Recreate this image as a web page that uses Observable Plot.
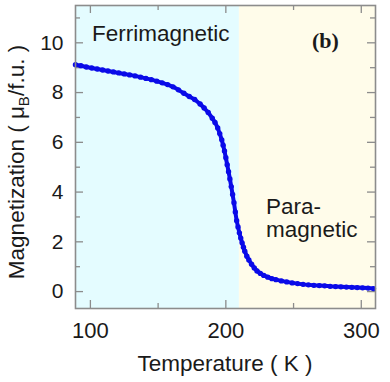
<!DOCTYPE html>
<html><head><meta charset="utf-8">
<script src="https://cdn.jsdelivr.net/npm/d3@7"></script>
<script src="https://cdn.jsdelivr.net/npm/@observablehq/plot@0.6"></script>
<style>
body{margin:0;background:#fff}
#chart svg{font-family:"Liberation Sans",Arial,sans-serif;background:#fff}
</style>
</head><body><div id="chart"></div>
<script>
// Temperature (K) and magnetization (μB/f.u.)
const temperature = [89,93,97,101,105,109,113,117,121,125,129,133,137,141,145,149,153,157,161,165,169,173,177,181,
  184,187,190,192,194,195.5,197,198,199,200,201,202,203,204,205,206,207,208,209,210,211,212,213,214,
  215.5,217,219,221,223,225.5,228,231,234,237,
  241,245,249,253,257,261,265,269,273,277,281,285,289,293,297,301,305,309];
const magnetization = [9.12,9.08,9.03,8.99,8.95,8.91,8.87,8.83,8.79,8.75,8.71,8.67,8.62,8.57,8.52,8.46,8.39,8.32,8.23,8.11,7.97,7.84,7.72,7.54,
  7.38,7.20,6.97,6.80,6.58,6.35,6.10,5.88,5.65,5.38,5.10,4.82,4.53,4.22,3.90,3.57,3.20,2.85,2.60,2.36,2.15,1.96,1.78,1.62,
  1.42,1.27,1.10,0.95,0.83,0.73,0.65,0.58,0.52,0.48,
  0.43,0.39,0.35,0.32,0.29,0.27,0.25,0.24,0.23,0.21,0.20,0.19,0.18,0.17,0.16,0.15,0.14,0.12];

// phase regions (temperature bounds)
const phaseStart = [89, 210];
const phaseEnd = [210, 310.5];

const xTicksMajor = [100, 200, 300];
const xTicksMinor = [150, 250];
const yTicksMajor = [0, 2, 4, 6, 8, 10];
const yTicksMinor = [1, 3, 5, 7, 9, 11];

const xDomain = [89, 310.5];
const yDomain = [-0.68, 11.5];

const W = 390, H = 382;
const mL = 75, mR = 15, mT = 5, mB = 74;
const innerW = W - mL - mR, innerH = H - mT - mB;
const blue = "#0a0ae8";
const gray = "#8c8c8c";
const ink = "#1a1a1a";
const majorLen = 8, minorLen = 5;

const points = temperature.map((t, i) => ({T: t, M: magnetization[i]}));
const ferri = [{x1: phaseStart[0], x2: phaseEnd[0]}];
const para = [{x1: phaseStart[1], x2: phaseEnd[1]}];

const plot = Plot.plot({
  width: W, height: H,
  marginLeft: mL, marginRight: mR, marginTop: mT, marginBottom: mB,
  x: {domain: xDomain},
  y: {domain: yDomain},
  marks: [
    Plot.rect(ferri, {x1: "x1", x2: "x2", fill: "#e4fcff"}),
    Plot.rect(para, {x1: "x1", x2: "x2", fill: "#fffcea"}),
    // ticks bottom / top
    Plot.tickX(xTicksMajor, {x: d => d, stroke: gray, strokeWidth: 1.3, insetTop: innerH - majorLen}),
    Plot.tickX(xTicksMajor, {x: d => d, stroke: gray, strokeWidth: 1.3, insetBottom: innerH - majorLen}),
    Plot.tickX(xTicksMinor, {x: d => d, stroke: gray, strokeWidth: 1.3, insetTop: innerH - minorLen}),
    Plot.tickX(xTicksMinor, {x: d => d, stroke: gray, strokeWidth: 1.3, insetBottom: innerH - minorLen}),
    // ticks left / right
    Plot.tickY(yTicksMajor, {y: d => d, stroke: gray, strokeWidth: 1.3, insetRight: innerW - majorLen}),
    Plot.tickY(yTicksMajor, {y: d => d, stroke: gray, strokeWidth: 1.3, insetLeft: innerW - majorLen}),
    Plot.tickY(yTicksMinor, {y: d => d, stroke: gray, strokeWidth: 1.3, insetRight: innerW - minorLen}),
    Plot.tickY(yTicksMinor, {y: d => d, stroke: gray, strokeWidth: 1.3, insetLeft: innerW - minorLen}),
    Plot.line(points, {x: "T", y: "M", stroke: blue, strokeWidth: 4}),
    Plot.dot(points, {x: "T", y: "M", r: 2.7, fill: blue}),
    Plot.frame({stroke: gray, strokeWidth: 1.6}),
    Plot.axisX(xTicksMajor, {tickSize: 0, tickPadding: 14, fontSize: 22, fill: ink, label: null}),
    Plot.axisY(yTicksMajor, {tickSize: 0, tickPadding: 12, fontSize: 21, fill: ink, label: null})
  ]
});

document.getElementById("chart").appendChild(plot);

const svg = d3.select(plot);
const sx = plot.scale("x"), sy = plot.scale("y");

// annotations
svg.append("text").attr("x", sx.apply(101.5)).attr("y", sy.apply(10.04))
  .attr("text-anchor", "start").attr("font-size", 22.5).attr("fill", ink).text("Ferrimagnetic");
svg.append("text").attr("x", sx.apply(273.9)).attr("y", sy.apply(9.78))
  .attr("text-anchor", "middle").attr("font-size", 22).attr("font-weight", "bold")
  .attr("font-family", "'Liberation Serif','Times New Roman',serif").attr("fill", ink).text("(b)");
svg.append("text").attr("x", sx.apply(230.1)).attr("y", sy.apply(3.1))
  .attr("text-anchor", "start").attr("font-size", 22.5).attr("fill", ink).text("Para-");
svg.append("text").attr("x", sx.apply(230.1)).attr("y", sy.apply(2.18))
  .attr("text-anchor", "start").attr("font-size", 22.5).attr("fill", ink).text("magnetic");

// axis titles
svg.append("text").attr("x", mL + innerW / 2).attr("y", 371)
  .attr("text-anchor", "middle").attr("font-size", 22.5).attr("fill", ink)
  .text("Temperature ( K )");
const yt = svg.append("text").attr("transform", "translate(24,162) rotate(-90)")
  .attr("text-anchor", "middle").attr("font-size", 22.5).attr("fill", ink);
yt.append("tspan").text("Magnetization ( μ");
yt.append("tspan").attr("font-size", 15).attr("dy", 5).text("B");
yt.append("tspan").attr("dy", -5).text("/f.u. )");
</script>
</body></html>
